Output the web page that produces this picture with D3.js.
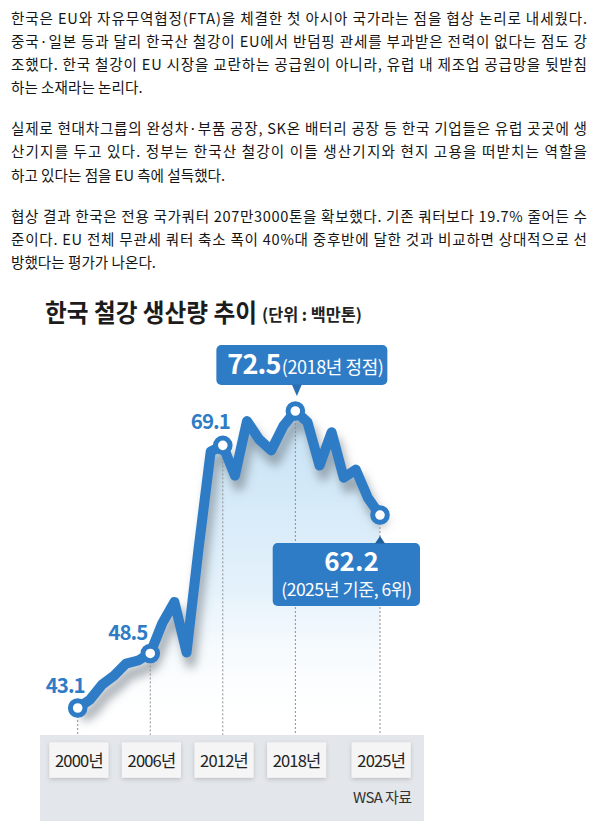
<!DOCTYPE html>
<html>
<head>
<meta charset="utf-8">
<script src="https://cdn.jsdelivr.net/npm/d3@7"></script>
<style>
  html, body { margin: 0; padding: 0; background: #fff; }
  svg { display: block; }
  text { font-family: "Noto Sans CJK KR", "Noto Sans", sans-serif; }
</style>
</head>
<body>
<svg id="page" width="594" height="840"></svg>
<script>
// article text, one entry per printed line
const para1 = [
  "한국은 EU와 자유무역협정(FTA)을 체결한 첫 아시아 국가라는 점을 협상 논리로 내세웠다.",
  "중국·일본 등과 달리 한국산 철강이 EU에서 반덤핑 관세를 부과받은 전력이 없다는 점도 강",
  "조했다. 한국 철강이 EU 시장을 교란하는 공급원이 아니라, 유럽 내 제조업 공급망을 뒷받침",
  "하는 소재라는 논리다."
];
const para2 = [
  "실제로 현대차그룹의 완성차·부품 공장, SK온 배터리 공장 등 한국 기업들은 유럽 곳곳에 생",
  "산기지를 두고 있다. 정부는 한국산 철강이 이들 생산기지와 현지 고용을 떠받치는 역할을",
  "하고 있다는 점을 EU 측에 설득했다."
];
const para3 = [
  "협상 결과 한국은 전용 국가쿼터 207만3000톤을 확보했다. 기존 쿼터보다 19.7% 줄어든 수",
  "준이다. EU 전체 무관세 쿼터 축소 폭이 40%대 중후반에 달한 것과 비교하면 상대적으로 선",
  "방했다는 평가가 나온다."
];

// chart data (백만톤, WSA)
const years = [2000, 2001, 2002, 2003, 2004, 2005, 2006, 2007, 2008, 2009,
               2010, 2011, 2012, 2013, 2014, 2015, 2016, 2017, 2018, 2019,
               2020, 2021, 2022, 2023, 2024, 2025];
const production = [43.1, 43.9, 45.4, 46.3, 47.5, 47.8, 48.5, 51.5, 53.6, 48.6,
                    58.9, 68.5, 69.1, 66.1, 71.5, 69.7, 68.6, 71.0, 72.5, 71.4,
                    67.1, 70.4, 65.9, 66.7, 63.9, 62.2];
const markYears = [2000, 2006, 2012, 2018, 2025];
const tickLabels = ["2000년", "2006년", "2012년", "2018년", "2025년"];
const labelYears = [2000, 2006, 2012];

const chartTitle = "한국 철강 생산량 추이";
const unitText = "(단위 : 백만톤)";
const peakValue = "72.5";
const peakNote = "(2018년 정점)";
const lastValue = "62.2";
const lastNote = "(2025년 기준, 6위)";
const sourceText = "WSA 자료";

const blue = "#2f7cc6";
const svg = d3.select("#page");

// ---------- article text ----------
function drawParagraph(lines, firstBaseline) {
  lines.forEach(function(line, i) {
    const t = svg.append("text")
      .attr("x", 11)
      .attr("y", firstBaseline + i * 23.3)
      .attr("font-size", 14.6)
      .attr("fill", "#151515")
      .text(line);
    //justify every line except the last one
    if (i < lines.length - 1) {
      t.attr("textLength", 576).attr("lengthAdjust", "spacing");
    }
  });
}
drawParagraph(para1, 23.5);
drawParagraph(para2, 134);
drawParagraph(para3, 221.5);

// ---------- title ----------
svg.append("text")
  .attr("x", 45).attr("y", 322)
  .attr("font-size", 25).attr("font-weight", 700)
  .attr("fill", "#1c1c1c")
  .attr("textLength", 212).attr("lengthAdjust", "spacingAndGlyphs")
  .text(chartTitle);
svg.append("text")
  .attr("x", 262).attr("y", 321)
  .attr("font-size", 16.5).attr("font-weight", 700)
  .attr("fill", "#222")
  .attr("textLength", 100).attr("lengthAdjust", "spacingAndGlyphs")
  .text(unitText);

// ---------- scales ----------
const x = d3.scaleLinear().domain([2000, 2025]).range([77.7, 380]);
const y = d3.scaleLinear().domain([43.1, 72.5]).range([708, 411]);
const bandTop = 735;

const series = years.map((yr, i) => ({year: yr, value: production[i]}));
const byYear = new Map(series.map(d => [d.year, d]));

const defs = svg.append("defs");
const grad = defs.append("linearGradient")
  .attr("id", "areaGrad")
  .attr("gradientUnits", "userSpaceOnUse")
  .attr("x1", 0).attr("y1", 410).attr("x2", 0).attr("y2", bandTop);
grad.append("stop").attr("offset", "0%").attr("stop-color", "#c4e1f5").attr("stop-opacity", 1);
grad.append("stop").attr("offset", "55%").attr("stop-color", "#dfeffa").attr("stop-opacity", 0.85);
grad.append("stop").attr("offset", "100%").attr("stop-color", "#ffffff").attr("stop-opacity", 0);

defs.append("filter").attr("id", "blur")
  .attr("x", "-20%").attr("y", "-20%").attr("width", "140%").attr("height", "140%")
  .append("feGaussianBlur").attr("stdDeviation", 5);

const boxShadow = defs.append("filter").attr("id", "boxShadow")
  .attr("x", "-20%").attr("y", "-20%").attr("width", "140%").attr("height", "160%");
boxShadow.append("feDropShadow")
  .attr("dx", 0).attr("dy", 1.5).attr("stdDeviation", 2)
  .attr("flood-color", "#000").attr("flood-opacity", 0.18);

// ---------- bottom band ----------
svg.append("rect")
  .attr("x", 40).attr("y", bandTop)
  .attr("width", 384).attr("height", 86)
  .attr("fill", "#e3e6ea");

// ---------- area + shadow + line ----------
const area = d3.area()
  .x(d => x(d.year))
  .y0(bandTop)
  .y1(d => y(d.value));
const line = d3.line()
  .x(d => x(d.year))
  .y(d => y(d.value));

svg.append("path")
  .datum(series)
  .attr("d", area)
  .attr("fill", "url(#areaGrad)");

svg.append("path")
  .datum(series)
  .attr("d", line)
  .attr("transform", "translate(4,10)")
  .attr("fill", "none")
  .attr("stroke", "#6f7a84")
  .attr("stroke-opacity", 0.6)
  .attr("stroke-width", 11)
  .attr("stroke-linejoin", "round")
  .attr("filter", "url(#blur)");

// dashed guides
svg.selectAll(".guide")
  .data(markYears)
  .join("line")
  .attr("class", "guide")
  .attr("x1", d => x(d)).attr("x2", d => x(d))
  .attr("y1", d => y(byYear.get(d).value))
  .attr("y2", bandTop)
  .attr("stroke", "#8d8d8d")
  .attr("stroke-width", 1)
  .attr("stroke-dasharray", "2,2");

svg.append("path")
  .datum(series)
  .attr("d", line)
  .attr("fill", "none")
  .attr("stroke", blue)
  .attr("stroke-width", 10)
  .attr("stroke-linejoin", "round")
  .attr("stroke-linecap", "round");

svg.selectAll(".marker")
  .data(markYears.map(yr => byYear.get(yr)))
  .join("circle")
  .attr("class", "marker")
  .attr("cx", d => x(d.year))
  .attr("cy", d => y(d.value))
  .attr("r", 7.3)
  .attr("fill", "#fff")
  .attr("stroke", blue)
  .attr("stroke-width", 5);

// value labels beside the early markers
const labelShift = {2000: [7, -15], 2006: [-3, -13], 2012: [7, -16]};
svg.selectAll(".vlabel")
  .data(labelYears.map(yr => byYear.get(yr)))
  .join("text")
  .attr("class", "vlabel")
  .attr("x", d => x(d.year) + labelShift[d.year][0])
  .attr("y", d => y(d.value) + labelShift[d.year][1])
  .attr("text-anchor", "end")
  .attr("font-size", 20.5)
  .attr("font-weight", 700)
  .attr("letter-spacing", -1)
  .attr("fill", blue)
  .text(d => d.value.toFixed(1));

// ---------- callouts ----------
const peak = byYear.get(2018);
const px = x(peak.year), py = y(peak.value);
const peakBox = svg.append("g");
peakBox.append("rect")
  .attr("x", px - 79).attr("y", py - 66)
  .attr("width", 171).attr("height", 40).attr("rx", 5)
  .attr("fill", blue);
peakBox.append("path")
  .attr("d", `M${px + 1.5 - 5},${py - 26.5}L${px + 1.5 + 5},${py - 26.5}L${px + 1.5},${py - 15}Z`)
  .attr("fill", "#2a6fb3");
const peakText = peakBox.append("text")
  .attr("x", px - 68).attr("y", py - 37)
  .attr("fill", "#fff");
peakText.append("tspan")
  .attr("font-size", 27).attr("font-weight", 700).attr("letter-spacing", -0.8)
  .text(peakValue);
peakText.append("tspan")
  .attr("font-size", 18).attr("dx", 1).attr("letter-spacing", -0.4)
  .text(peakNote);

const last = byYear.get(2025);
const lx = x(last.year), ly = y(last.value);
const lastBox = svg.append("g");
lastBox.append("rect")
  .attr("x", lx - 107.3).attr("y", ly + 28)
  .attr("width", 147.3).attr("height", 63).attr("rx", 5)
  .attr("fill", blue);
lastBox.append("path")
  .attr("d", `M${lx - 5},${ly + 28.5}L${lx + 5},${ly + 28.5}L${lx},${ly + 21}Z`)
  .attr("fill", "#1f5f9e");
lastBox.append("text")
  .attr("x", lx - 28.5).attr("y", ly + 55.5)
  .attr("text-anchor", "middle")
  .attr("font-family", "Roboto, 'Noto Sans', sans-serif")
  .attr("font-size", 26).attr("font-weight", 700)
  .attr("fill", "#fff")
  .text(lastValue);
lastBox.append("text")
  .attr("x", lx - 33.5).attr("y", ly + 81)
  .attr("text-anchor", "middle")
  .attr("font-size", 17.5).attr("letter-spacing", -0.5)
  .attr("fill", "#fff")
  .text(lastNote);

// ---------- axis labels in the band ----------
const ticks = svg.selectAll(".tick")
  .data(markYears)
  .join("g")
  .attr("class", "tick")
  .attr("transform", d => `translate(${x(d) + 1.2},0)`);
ticks.append("rect")
  .attr("x", -29.5).attr("y", 742.3)
  .attr("width", 59).attr("height", 35.5)
  .attr("fill", "#f5f5f6")
  .attr("filter", "url(#boxShadow)");
ticks.append("text")
  .attr("y", 767)
  .attr("text-anchor", "middle")
  .attr("font-size", 16.5)
  .attr("letter-spacing", -0.8)
  .attr("fill", "#222")
  .text((d, i) => tickLabels[i]);

svg.append("text")
  .attr("x", 411.5).attr("y", 803)
  .attr("text-anchor", "end")
  .attr("font-size", 15)
  .attr("letter-spacing", -0.6)
  .attr("fill", "#333")
  .text(sourceText);
</script>
</body>
</html>
